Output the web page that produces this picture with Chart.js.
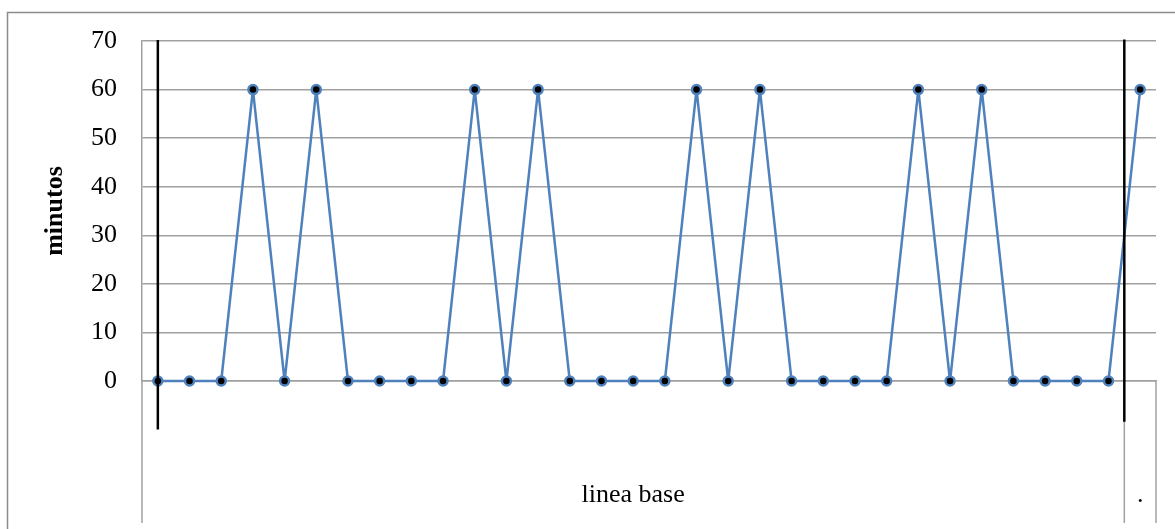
<!DOCTYPE html>
<html>
<head>
<meta charset="utf-8">
<script src="https://cdn.jsdelivr.net/npm/chart.js@4"></script>
<style>
html,body{margin:0;padding:0;background:#fff;}
#w{width:1175px;height:529px;position:relative;}
</style>
</head>
<body>
<div id="w"><canvas id="c"></canvas></div>
<script>
const categories = ['1','2','3','4','5','6','7','8','9','10','11','12','13','14','15','16','17','18','19','20','21','22','23','24','25','26','27','28','29','30','31','32'];
const minutos = [0,0,0,60,0,60,0,0,0,0,60,0,60,0,0,0,0,60,0,60,0,0,0,0,60,0,60,0,0,0,0,60];
const yTicks = [0,10,20,30,40,50,60,70];
const yTitle = 'minutos';
// group labels of the second category level (index range of categories)
const groups = [
  {label: 'linea base', from: 0, to: 30},
  {label: '.', from: 31, to: 31}
];
// phase-change lines (category position, value range)
const phaseLines = [
  {at: 0, top: 70.2, bottom: -10},
  {at: 30.5, top: 70.3, bottom: -8.4}
];

const GRID = '#a0a0a0';
const FONT = "'Liberation Serif', 'Times New Roman', serif";

const decor = {
  id: 'decor',
  beforeDraw(chart) {
    const ctx = chart.ctx;
    ctx.save();
    ctx.fillStyle = '#fff';
    ctx.fillRect(0, 0, chart.width, chart.height);
    ctx.strokeStyle = '#8c8c8c';
    ctx.lineWidth = 1.5;
    ctx.strokeRect(7.5, 12.5, chart.width + 20, chart.height + 20);
    ctx.restore();
  },
  afterDatasetsDraw(chart) {
    const ctx = chart.ctx;
    const x = chart.scales.x, y = chart.scales.y;
    const area = chart.chartArea;
    ctx.save();
    const bottom = chart.height - 6;
    ctx.strokeStyle = GRID;
    ctx.lineWidth = 1.5;
    const bounds = new Set();
    groups.forEach(g => { bounds.add(g.from - 0.5); bounds.add(g.to + 0.5); });
    bounds.forEach(b => {
      const px = x.getPixelForValue(b);
      ctx.beginPath();
      ctx.moveTo(px, area.bottom);
      ctx.lineTo(px, bottom);
      ctx.stroke();
    });
    ctx.fillStyle = '#000';
    ctx.font = '26px ' + FONT;
    ctx.textAlign = 'center';
    ctx.textBaseline = 'alphabetic';
    groups.forEach(g => {
      const cx = (x.getPixelForValue(g.from - 0.5) + x.getPixelForValue(g.to + 0.5)) / 2;
      ctx.fillText(g.label, cx, 502);
    });
    ctx.strokeStyle = '#000';
    ctx.lineWidth = 2.5;
    phaseLines.forEach(p => {
      const px = x.getPixelForValue(p.at);
      ctx.beginPath();
      ctx.moveTo(px, y.getPixelForValue(p.top));
      ctx.lineTo(px, y.getPixelForValue(p.bottom));
      ctx.stroke();
    });
    ctx.restore();
  }
};

new Chart(document.getElementById('c'), {
  type: 'line',
  data: {
    labels: categories,
    datasets: [{
      data: minutos,
      borderColor: '#4F81BD',
      borderWidth: 2.5,
      borderJoinStyle: 'round',
      pointRadius: 4.5,
      pointBorderWidth: 2.5,
      pointBackgroundColor: '#000',
      pointBorderColor: '#4F81BD',
      tension: 0,
      clip: false
    }]
  },
  options: {
    responsive: true,
    maintainAspectRatio: false,
    animation: false,
    events: [],
    layout: {padding: {left: 0, right: 19, top: 41, bottom: 0}},
    plugins: {legend: {display: false}, tooltip: {enabled: false}},
    scales: {
      x: {
        type: 'category',
        offset: true,
        grid: {display: false, drawTicks: false},
        border: {display: true, color: GRID, width: 1.5},
        ticks: {display: false},
        afterFit(s) { s.height = 148; }
      },
      y: {
        min: 0, max: 70,
        afterBuildTicks(s) { s.ticks = yTicks.map(v => ({value: v})); },
        grid: {color: GRID, lineWidth: 1.5, drawTicks: false},
        border: {display: true, color: GRID, width: 1.5},
        ticks: {color: '#000', padding: 25, font: {family: FONT, size: 26}},
        title: {display: true, text: yTitle, color: '#000', padding: {top: 40, bottom: 0},
                font: {family: FONT, size: 26, weight: 'bold'}},
        afterFit(s) { s.width = 142; }
      }
    }
  },
  plugins: [decor]
});
</script>
</body>
</html>
